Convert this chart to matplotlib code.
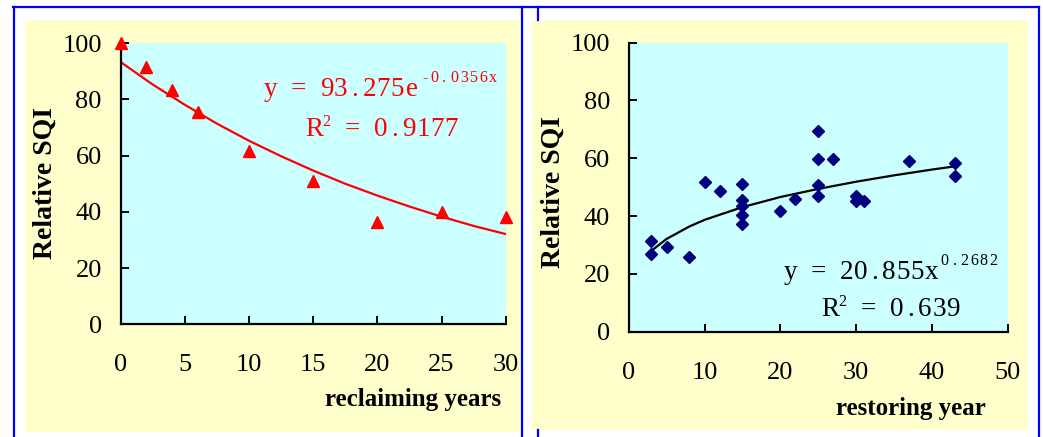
import matplotlib
matplotlib.use("Agg")
import matplotlib.pyplot as plt
from matplotlib.patches import Rectangle
from matplotlib.lines import Line2D

# Left panel: SQI against reclaiming years.
reclaim_years = [0, 2, 4, 6, 10, 15, 20, 25, 30]
reclaim_sqi = [100, 91.7, 83.5, 75.4, 61.8, 51.0, 36.4, 40.0, 38.3]
reclaim_fit_x = [0, 2.5, 5, 7.5, 10, 12.5, 15, 17.5, 20, 22.5, 25, 27.5, 30]
reclaim_fit_y = [93.3, 85.3, 78.1, 71.4, 65.3, 59.8, 54.7, 50.0, 45.8, 41.9, 38.3, 35.0, 32.1]
reclaim_xticks = [0, 5, 10, 15, 20, 25, 30]

# Right panel: SQI against restoring year.
restore_years = [3, 3, 5, 8, 10, 12, 15, 15, 15, 15, 15, 20, 22,
                 25, 25, 25, 25, 27, 30, 30, 31, 37, 43, 43]
restore_sqi = [31.4, 26.9, 29.4, 26.0, 51.9, 48.6, 51.2, 45.6, 43.4, 40.4, 37.3, 41.8, 45.9,
               69.4, 59.9, 50.8, 47.0, 59.9, 47.0, 45.3, 45.1, 59.1, 58.3, 53.9]
restore_fit_x = [3, 5, 8, 10, 15, 20, 25, 30, 35, 40, 43]
restore_fit_y = [28.0, 32.1, 36.4, 38.7, 43.1, 46.6, 49.4, 51.9, 54.1, 56.1, 57.2]
restore_xticks = [0, 10, 20, 30, 40, 50]

yticks = [0, 20, 40, 60, 80, 100]

W, H = 1043, 437
SERIF = "Liberation Serif"
EQ_SIZE = 19.5
PITCH = 10.2      # fixed character pitch of the equation text, points
SUP_PITCH = 7.0


def fx(px):
    return px / W


def fy(py):
    return 1 - py / H


def style_axes(ax, xmax, xticks):
    ax.set_facecolor("#ccffff")
    ax.set_xlim(0, xmax)
    ax.set_ylim(0, 100)
    ax.set_xticks(xticks)
    ax.set_yticks(yticks)
    for side in ("top", "right"):
        ax.spines[side].set_visible(False)
    for side in ("left", "bottom"):
        ax.spines[side].set_linewidth(1.6)
    ax.tick_params(direction="in", length=6, width=1.4, labelsize=19,
                   labelfontfamily=SERIF)
    ax.tick_params(axis="x", pad=21.5)
    ax.tick_params(axis="y", pad=13.5)


def mono(ax, x, y, s, color, size=EQ_SIZE, pitch=PITCH, dx=0.0, dy=0.0):
    # write s one character per fixed-width cell, starting dx points right of (x, y)
    for i, ch in enumerate(s):
        if ch == " ":
            continue
        ax.annotate(ch, xy=(x, y), xycoords="data", xytext=(dx + i * pitch, dy),
                    textcoords="offset points", ha="center", va="baseline",
                    color=color, fontsize=size, family=SERIF, annotation_clip=False)


def equation(ax, x, y, base, sup, color):
    mono(ax, x, y, base, color)
    mono(ax, x, y, sup, color, size=11.5, pitch=SUP_PITCH,
         dx=(len(base) - 1) * PITCH + 9.5, dy=10.5)


def r_squared(ax, x, y, value, color):
    mono(ax, x, y, "R", color)
    mono(ax, x, y, "2", color, size=11.5, dx=8.8, dy=7)
    mono(ax, x, y, "= " + value, color, dx=27.5)


def main():
    fig = plt.figure(figsize=(W / 100, H / 100), dpi=100)
    fig.patch.set_facecolor("white")

    # yellow chart areas
    fig.add_artist(Rectangle((fx(25), fy(432)), fx(520) - fx(25), fy(20) - fy(432),
                             transform=fig.transFigure, facecolor="#ffffcc",
                             edgecolor="none", zorder=-1))
    fig.add_artist(Rectangle((fx(532), fy(430)), fx(1028) - fx(532), fy(20) - fy(430),
                             transform=fig.transFigure, facecolor="#ffffcc",
                             edgecolor="none", zorder=-1))

    # blue frame
    frame = [((13, 7), (1039, 7)), ((13.5, 7), (13.5, 437)), ((521.5, 7), (521.5, 437)),
             ((538, 7), (538, 20)), ((538, 430), (538, 437)), ((1039, 7), (1039, 437))]
    for (x0, y0), (x1, y1) in frame:
        fig.add_artist(Line2D([fx(x0), fx(x1)], [fy(y0), fy(y1)], transform=fig.transFigure,
                              color="#0000ff", lw=1.6, zorder=5))

    # left chart
    ax1 = fig.add_axes([fx(120.6), fy(324.3), fx(505.7) - fx(120.6), fy(43.2) - fy(324.3)])
    style_axes(ax1, 30, reclaim_xticks)
    ax1.plot(reclaim_fit_x, reclaim_fit_y, color="red", lw=1.6, zorder=2)
    ax1.plot(reclaim_years, reclaim_sqi, linestyle="none", marker="^", ms=8,
             color="red", clip_on=False, zorder=3)
    equation(ax1, 11.64, 81.1, "y = 93.275e", "-0.0356x", "red")
    r_squared(ax1, 15.07, 67.0, "0.9177", "red")
    ax1.set_xlabel("reclaiming years", fontsize=18, fontweight="bold", family=SERIF)
    ax1.xaxis.set_label_coords(0.76, -0.228)
    ax1.set_ylabel("Relative SQI", fontsize=20, fontweight="bold", family=SERIF,
                   va="center", ha="center")
    ax1.yaxis.set_label_coords(-0.195, 0.503)

    # right chart
    ax2 = fig.add_axes([fx(628.7), fy(331.7), fx(1007.7) - fx(628.7), fy(42.7) - fy(331.7)])
    style_axes(ax2, 50, restore_xticks)
    ax2.plot(restore_fit_x, restore_fit_y, color="black", lw=1.6, zorder=2)
    ax2.plot(restore_years, restore_sqi, linestyle="none", marker="D", ms=6.5,
             color="#000080", zorder=3)
    equation(ax2, 21.28, 18.2, "y = 20.855x", "0.2682", "black")
    r_squared(ax2, 26.56, 5.4, "0.639", "black")
    ax2.set_xlabel("restoring year", fontsize=18, fontweight="bold", family=SERIF)
    ax2.xaxis.set_label_coords(0.745, -0.225)
    ax2.set_ylabel("Relative SQI", fontsize=20, fontweight="bold", family=SERIF,
                   va="center", ha="center")
    ax2.yaxis.set_label_coords(-0.2, 0.484)

    fig.savefig("out.png", dpi=100)


if __name__ == "__main__":
    main()
